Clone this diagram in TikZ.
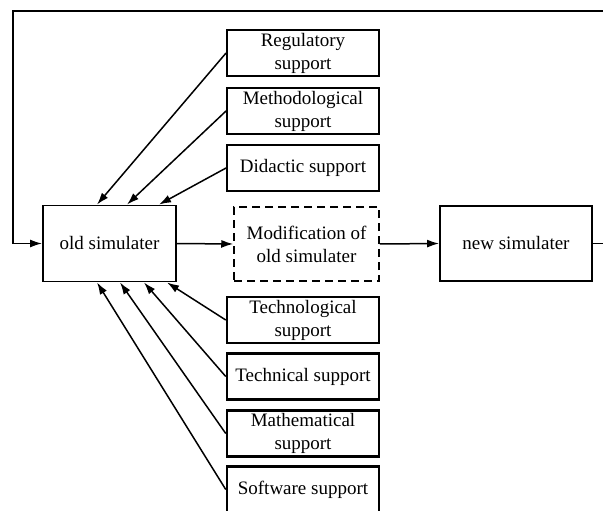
\documentclass[tikz,border=0pt]{standalone}
\usepackage{fontspec}
\setmainfont{Liberation Serif}
\usetikzlibrary{arrows.meta}
\begin{document}
\begin{tikzpicture}[x=1pt,y=-1pt,
  box/.style={draw, line width=1.9pt, rectangle, minimum width=152pt, minimum height=46pt,
    inner sep=1pt, align=center, font=\fontsize{19}{23}\selectfont},
  boxb/.style={box, line width=2.5pt},
  mainbox/.style={box, minimum height=76pt},
  arr/.style={line width=1.5pt, -{Latex[length=12pt,width=8pt]}},
  ln/.style={line width=1.5pt}]
\useasboundingbox (0,0) rectangle (603,511);
\node[mainbox, minimum width=133pt] (old) at (109.5,243.5) {old simulater};
\node[mainbox, dashed, minimum width=145pt, minimum height=74pt, line width=1.5pt, dash pattern=on 8pt off 5pt] (mod) at (306.5,244) {Modification of\\old simulater};
\node[mainbox, minimum height=75pt] (new) at (516,243.5) {new simulater};
\node[box] (reg) at (303,53) {Regulatory\\support};
\node[box] (met) at (303,111) {Methodological\\support};
\node[box] (did) at (303,168) {Didactic support};
\node[boxb] (tlg) at (303,320) {Technological\\support};
\node[boxb] (tcn) at (303,376.5) {Technical support};
\node[boxb] (mat) at (303,433.5) {Mathematical\\support};
\node[boxb] (sw) at (303,489.5) {Software support};
\coordinate (fbR) at (620,243.5);
\coordinate (fbTR) at (620,11);
\coordinate (fbTL) at (13,11);
\coordinate (fbBL) at (13,243.5);
\draw[arr] (reg.west) -- ([xshift=55pt]old.north west);
\draw[arr] (met.west) -- ([xshift=85pt]old.north west);
\draw[arr] (did.west) -- ([xshift=117pt]old.north west);
\draw[arr] (tlg.west) -- ([xshift=125pt]old.south west);
\draw[arr] (tcn.west) -- ([xshift=102pt]old.south west);
\draw[arr] (mat.west) -- ([xshift=78pt]old.south west);
\draw[arr] (sw.west) -- ([xshift=55pt]old.south west);
\draw[arr] (old.east) -- (mod.west);
\draw[arr] (mod.east) -- (new.west);
\draw[ln] (new.east) -- (fbR) -- (fbTR) -- (fbTL) -- (fbBL);
\draw[arr] (fbBL) -- (old.west);
\end{tikzpicture}
\end{document}
